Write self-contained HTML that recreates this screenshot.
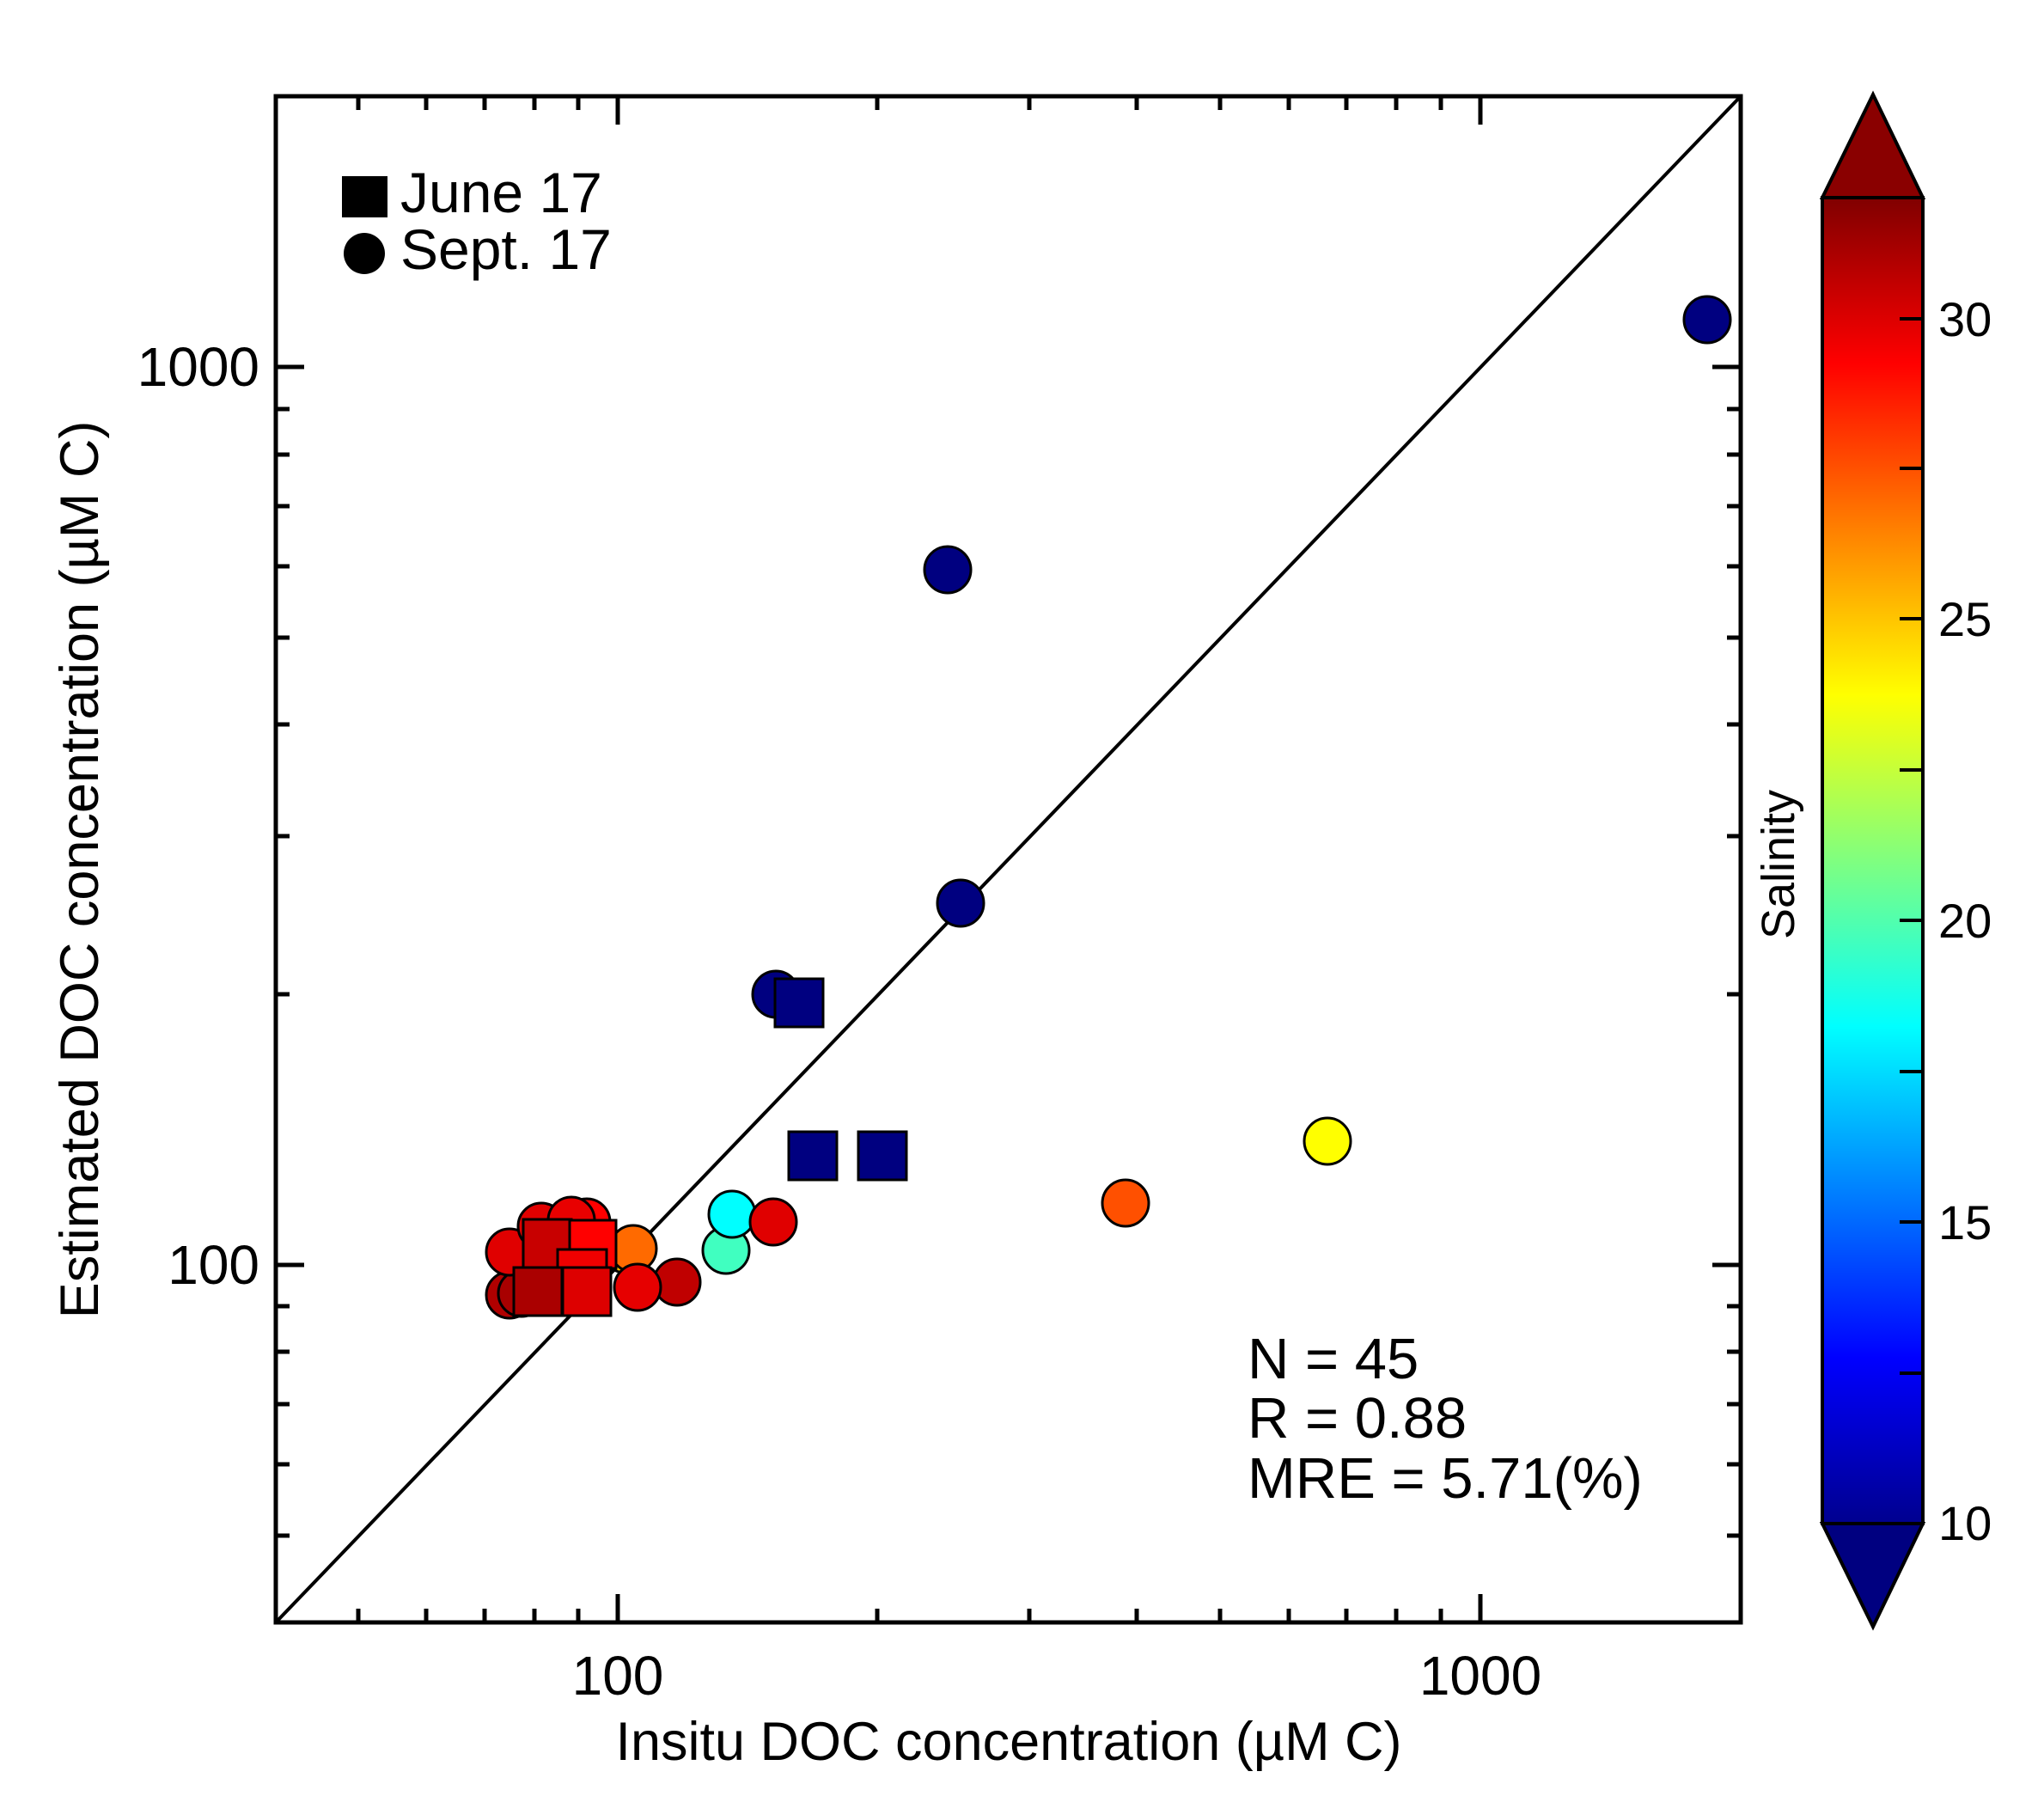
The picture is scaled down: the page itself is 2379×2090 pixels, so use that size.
<!DOCTYPE html>
<html><head><meta charset="utf-8"><style>html,body{margin:0;padding:0;background:#fff}svg{display:block}</style></head>
<body>
<svg width="2379" height="2090" viewBox="0 0 2379 2090" xmlns="http://www.w3.org/2000/svg" font-family="Liberation Sans, Arial, sans-serif">
<defs>
<linearGradient id="jet" x1="0" y1="1" x2="0" y2="0">
<stop offset="0" stop-color="#00008f"/>
<stop offset="0.125" stop-color="#0000ff"/>
<stop offset="0.375" stop-color="#00ffff"/>
<stop offset="0.625" stop-color="#ffff00"/>
<stop offset="0.875" stop-color="#ff0000"/>
<stop offset="1" stop-color="#800000"/>
</linearGradient>
</defs>
<rect width="2379" height="2090" fill="#fff"/>
<line x1="321" y1="1888" x2="2026" y2="112" stroke="#000" stroke-width="4"/>
<g stroke="#000" stroke-width="5">
<path d="M417 1888v-16M496 1888v-16M564 1888v-16M622 1888v-16M673 1888v-16M719 1888v-33M1021 1888v-16M1198 1888v-16M1323 1888v-16M1420 1888v-16M1500 1888v-16M1567 1888v-16M1625 1888v-16M1677 1888v-16M1723 1888v-33"/>
<path d="M417 112v16M496 112v16M564 112v16M622 112v16M673 112v16M719 112v33M1021 112v16M1198 112v16M1323 112v16M1420 112v16M1500 112v16M1567 112v16M1625 112v16M1677 112v16M1723 112v33"/>
<path d="M321 1787h16M321 1704h16M321 1634h16M321 1573h16M321 1520h16M321 1472h33M321 1157h16M321 973h16M321 843h16M321 742h16M321 659h16M321 589h16M321 529h16M321 476h16M321 427h33"/>
<path d="M2026 1787h-16M2026 1704h-16M2026 1634h-16M2026 1573h-16M2026 1520h-16M2026 1472h-33M2026 1157h-16M2026 973h-16M2026 843h-16M2026 742h-16M2026 659h-16M2026 589h-16M2026 529h-16M2026 476h-16M2026 427h-33"/>
</g>
<g stroke="#000" stroke-width="3">
<circle cx="593" cy="1507" r="27" fill="#b00000"/>
<circle cx="607" cy="1505" r="27" fill="#a80000"/>
<circle cx="593" cy="1457" r="27" fill="#e00000"/>
<circle cx="630" cy="1427" r="27" fill="#e00000"/>
<circle cx="683" cy="1422" r="27" fill="#ff0000"/>
<circle cx="665" cy="1420" r="27" fill="#e80000"/>
<circle cx="727" cy="1457" r="24" fill="#ffc000"/>
<circle cx="737" cy="1453" r="27" fill="#ff6a00"/>
<circle cx="788" cy="1492" r="27" fill="#c00000"/>
<circle cx="742" cy="1498" r="27" fill="#e60000"/>
<rect x="609" y="1419" width="56" height="56" fill="#c80000"/>
<rect x="663" y="1420" width="54" height="56" fill="#ff0000"/>
<rect x="649" y="1454" width="57" height="56" fill="#f00000"/>
<rect x="598" y="1475" width="56" height="56" fill="#aa0000"/>
<rect x="655" y="1475" width="56" height="56" fill="#dd0000"/>
<circle cx="845" cy="1455" r="27" fill="#40ffc0"/>
<circle cx="852" cy="1413" r="27" fill="#00ffff"/>
<circle cx="900" cy="1422" r="27" fill="#e00000"/>
<circle cx="1310" cy="1400" r="27" fill="#ff5000"/>
<circle cx="1545" cy="1328" r="27" fill="#ffff00"/>
<circle cx="903" cy="1157" r="27" fill="#000080"/>
<rect x="902" y="1139" width="56" height="56" fill="#000080"/>
<rect x="918" y="1317" width="56" height="56" fill="#000080"/>
<rect x="999" y="1317" width="56" height="56" fill="#000080"/>
<circle cx="1118" cy="1051" r="27" fill="#000080"/>
<circle cx="1103" cy="663" r="27" fill="#000080"/>
<circle cx="1987" cy="372" r="27" fill="#000080"/>
</g>
<rect x="321" y="112" width="1705" height="1776" fill="none" stroke="#000" stroke-width="5"/>
<rect x="398" y="205" width="53" height="48" fill="#000"/>
<circle cx="424" cy="295" r="24" fill="#000"/>
<g font-size="66" fill="#000">
<text x="466" y="247">June 17</text>
<text x="466" y="313">Sept. 17</text>
<text x="1452" y="1604" font-size="67">N = 45</text>
<text x="1452" y="1673" font-size="67">R = 0.88</text>
<text x="1452" y="1743" font-size="67">MRE = 5.71(%)</text>
<text x="719" y="1972" text-anchor="middle" font-size="64">100</text>
<text x="1723" y="1972" text-anchor="middle" font-size="64">1000</text>
<text x="1174" y="2048" text-anchor="middle" font-size="63">Insitu DOC concentration (µM C)</text>
<text x="302" y="449" text-anchor="end" font-size="64">1000</text>
<text x="302" y="1494" text-anchor="end" font-size="64">100</text>
<text transform="translate(114,1012) rotate(-90)" text-anchor="middle" font-size="63">Estimated DOC concentration (µM C)</text>
</g>
<polygon points="2121,230 2180,110 2238,230" fill="#8a0000" stroke="#000" stroke-width="4"/>
<polygon points="2121,1773 2180,1893 2238,1773" fill="#000080" stroke="#000" stroke-width="4"/>
<rect x="2121" y="230" width="117" height="1543" fill="url(#jet)" stroke="#000" stroke-width="4"/>
<g stroke="#000" stroke-width="4">
<path d="M2238 1598h-27M2238 1422h-27M2238 1247h-27M2238 1071h-27M2238 896h-27M2238 720h-27M2238 545h-27M2238 371h-27"/>
</g>
<g font-size="56" fill="#000">
<text x="2256" y="1792">10</text>
<text x="2256" y="1442">15</text>
<text x="2256" y="1091">20</text>
<text x="2256" y="740">25</text>
<text x="2256" y="391">30</text>
<text transform="translate(2088,1006) rotate(-90)" text-anchor="middle" font-size="54">Salinity</text>
</g>
</svg>
</body></html>
